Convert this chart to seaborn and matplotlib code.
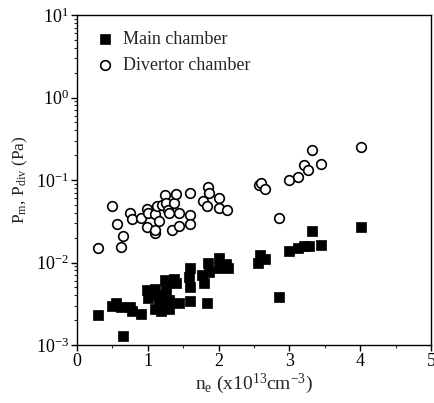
import numpy as np
import pandas as pd
import matplotlib
matplotlib.use("Agg")
import matplotlib.pyplot as plt
import seaborn as sns
from matplotlib.ticker import LogLocator, MultipleLocator, NullFormatter

# Main chamber (filled squares)
main_ne = [0.30, 0.49, 0.555, 0.62, 0.645, 0.75, 0.78, 0.90, 0.99, 1.00, 1.01, 1.10,
           1.10, 1.16, 1.16, 1.18, 1.24, 1.26, 1.30, 1.30, 1.37, 1.40, 1.445, 1.58,
           1.60, 1.60, 1.60, 1.76, 1.80, 1.835, 1.855, 1.87, 2.00, 2.00, 2.10, 2.13,
           2.58, 2.55, 2.65, 2.86, 2.99, 3.12, 3.20, 3.27, 3.32, 3.45, 4.01]
main_p = [0.00233, 0.0030, 0.0032, 0.0029, 0.0013, 0.0029, 0.00255, 0.0024, 0.0046, 0.0037,
          0.0042, 0.0048, 0.0027, 0.0040, 0.0033, 0.0026, 0.0061, 0.0047, 0.0035, 0.0027,
          0.0063, 0.0056, 0.0032, 0.0066, 0.0085, 0.0050, 0.0034, 0.0071, 0.0057, 0.0032,
          0.0100, 0.0076, 0.0113, 0.0085, 0.0095, 0.0085,
          0.0122, 0.0099, 0.0109, 0.0038, 0.0139, 0.0151, 0.0158, 0.0160, 0.0241, 0.0164, 0.0272]

# Divertor chamber (open circles)
div_ne = [0.30, 0.49, 0.565, 0.645, 0.62, 0.75, 0.78, 0.90, 0.99, 1.00, 0.99, 1.10,
          1.10, 1.105, 1.13, 1.16, 1.20, 1.24, 1.26, 1.29, 1.30, 1.34, 1.37, 1.40,
          1.435, 1.445, 1.60, 1.60, 1.60, 1.78, 1.835, 1.855, 1.86, 2.00, 2.00, 2.12,
          2.565, 2.60, 2.65, 2.86, 2.99, 3.12, 3.20, 3.26, 3.32, 3.45, 4.01]
div_p = [0.0148, 0.049, 0.029, 0.021, 0.0153, 0.040, 0.034, 0.035, 0.045, 0.040, 0.027,
         0.023, 0.025, 0.039, 0.049, 0.032, 0.050, 0.066, 0.052, 0.043, 0.040, 0.025,
         0.052, 0.067, 0.040, 0.028, 0.069, 0.038, 0.029, 0.056, 0.048, 0.083, 0.070,
         0.060, 0.046, 0.043,
         0.086, 0.093, 0.077, 0.035, 0.100, 0.110, 0.152, 0.132, 0.231, 0.156, 0.249]

labels = ["Main chamber", "Divertor chamber"]

sns.set_style("ticks")
plt.rcParams['font.family'] = ['Liberation Serif', 'DejaVu Serif']
plt.rcParams['mathtext.fontset'] = 'custom'
plt.rcParams['mathtext.rm'] = 'Liberation Serif'
plt.rcParams['mathtext.it'] = 'Liberation Serif'

fig = plt.figure(figsize=(4.34, 4.03), dpi=100)
ax = fig.add_axes([77/434, 1 - 345/403, (431-77)/434, (345-15)/403])

df_m = pd.DataFrame({"ne": main_ne, "p": main_p})
df_d = pd.DataFrame({"ne": div_ne, "p": div_p})

sns.scatterplot(data=df_m, x="ne", y="p", ax=ax, marker="s", s=42, color="black",
                edgecolor="black", linewidth=0.5, label=labels[0], zorder=3)
sns.scatterplot(data=df_d, x="ne", y="p", ax=ax, marker="o", s=48, facecolor="white",
                edgecolor="black", linewidth=1.2, label=labels[1], zorder=3)

ax.set_yscale("log")
ax.set_xlim(0, 5)
ax.set_ylim(1e-3, 10)
ax.xaxis.set_major_locator(MultipleLocator(1))
ax.xaxis.set_minor_locator(MultipleLocator(0.5))
ax.yaxis.set_major_locator(LogLocator(base=10, numticks=10))
ax.yaxis.set_minor_locator(LogLocator(base=10, subs=np.arange(2, 10), numticks=20))
ax.yaxis.set_minor_formatter(NullFormatter())

for s in ax.spines.values():
    s.set_linewidth(1.0)
    s.set_color("black")
ax.tick_params(which="major", direction="out", length=4, width=1, labelsize=13, colors="black", pad=2)
ax.tick_params(which="minor", direction="out", length=2.5, width=0.8)

ax.set_xlabel(r"n$_\mathregular{e}$ (x10$^\mathregular{13}$cm$^\mathregular{-3}$)", fontsize=14, labelpad=1)
ax.set_ylabel(r"P$_\mathregular{m}$, P$_\mathregular{div}$ (Pa)", fontsize=12.5, labelpad=4)

leg = ax.legend(loc="upper left", frameon=False, fontsize=13, handletextpad=0.3,
                handlelength=1.4, borderaxespad=0.3, labelspacing=0.5,
                bbox_to_anchor=(0.008, 0.99))

fig.savefig("out.png", dpi=100)
